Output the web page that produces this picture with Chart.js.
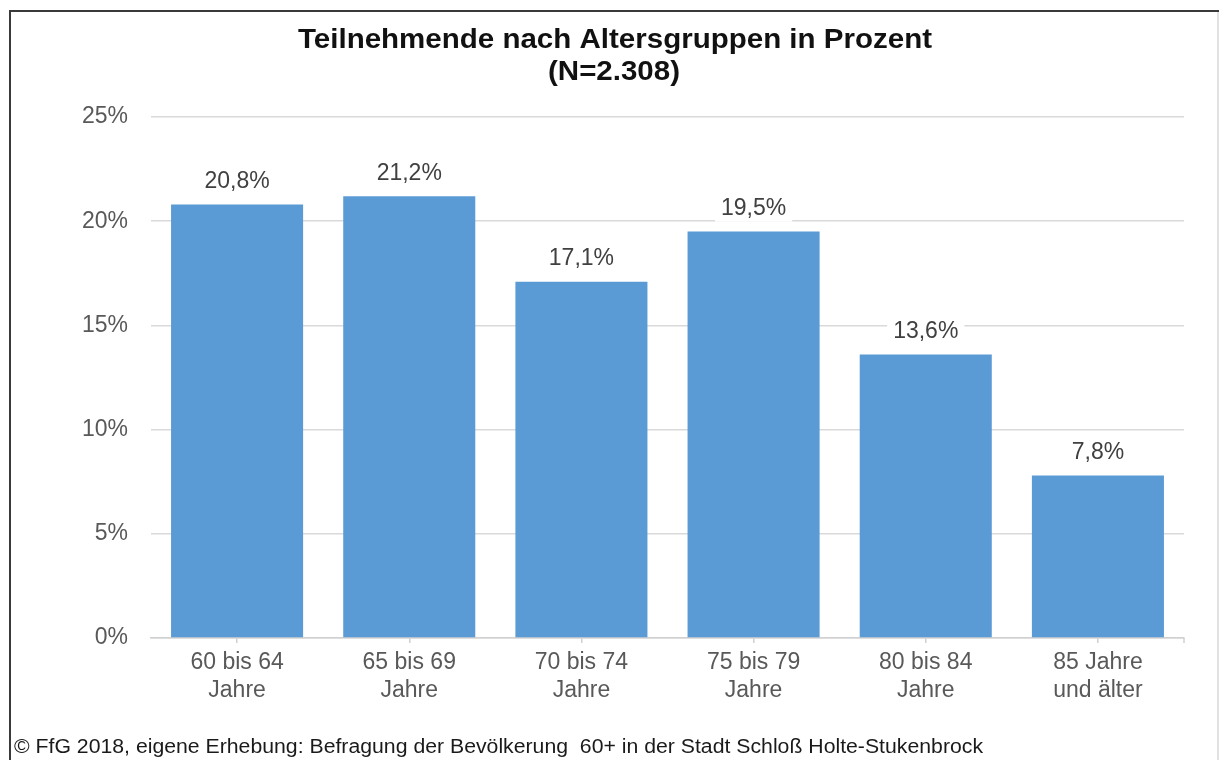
<!DOCTYPE html>
<html>
<head>
<meta charset="utf-8">
<script src="https://cdn.jsdelivr.net/npm/chart.js@4.4.0/dist/chart.umd.min.js"></script>
<style>
  html, body { margin: 0; padding: 0; background: #fff; }
  #wrap { position: absolute; left: 0; top: 0; width: 1219px; height: 760px; }
</style>
</head>
<body>
<div id="wrap"><canvas id="c" width="1219" height="760"></canvas></div>
<script>
const categories = [["60 bis 64", "Jahre"], ["65 bis 69", "Jahre"], ["70 bis 74", "Jahre"], ["75 bis 79", "Jahre"], ["80 bis 84", "Jahre"], ["85 Jahre", "und älter"]];
const values = [20.8, 21.2, 17.1, 19.5, 13.6, 7.8];
const titleLines = ["Teilnehmende nach Altersgruppen in Prozent", "(N=2.308)"];
const footerText = "© FfG 2018, eigene Erhebung: Befragung der Bevölkerung  60+ in der Stadt Schloß Holte-Stukenbrock";

const FONT = "'Liberation Sans', Arial, sans-serif";

function fmt(v) { return v.toFixed(1).replace('.', ',') + '%'; }

function drawFitted(ctx, text, cx, cy, font, color, targetW, align) {
  ctx.save();
  ctx.font = font;
  ctx.fillStyle = color;
  ctx.textBaseline = 'middle';
  const w = ctx.measureText(text).width;
  const s = targetW ? targetW / w : 1;
  ctx.translate(cx, cy);
  ctx.scale(s, 1);
  ctx.textAlign = align || 'center';
  ctx.fillText(text, 0, 0);
  ctx.restore();
}

const decor = {
  id: 'decor',
  beforeDraw(chart) {
    const ctx = chart.ctx;
    ctx.save();
    ctx.fillStyle = '#fff';
    ctx.fillRect(0, 0, chart.width, chart.height);
    ctx.strokeStyle = '#3a3a3a';
    ctx.lineWidth = 2;
    ctx.beginPath();
    ctx.moveTo(10, 770); ctx.lineTo(10, 11); ctx.lineTo(1219, 11);
    ctx.stroke();
    ctx.strokeStyle = '#d8d8d8';
    ctx.lineWidth = 1.5;
    ctx.beginPath();
    ctx.moveTo(1218, 12); ctx.lineTo(1218, 760);
    ctx.stroke();
    ctx.restore();
  },
  afterDraw(chart) {
    const ctx = chart.ctx;
    drawFitted(ctx, titleLines[0], 615, 40, "bold 28px " + FONT, '#111', 634);
    drawFitted(ctx, titleLines[1], 614, 72, "bold 28px " + FONT, '#111', 132);
    drawFitted(ctx, footerText, 14, 747, "20px " + FONT, '#1a1a1a', 969, 'left');
    const area = chart.chartArea;
    ctx.save();
    ctx.strokeStyle = '#d0d0d0';
    ctx.lineWidth = 1.5;
    ctx.beginPath();
    ctx.moveTo(area.right, area.bottom); ctx.lineTo(area.right, area.bottom + 5);
    ctx.stroke();
    const meta = chart.getDatasetMeta(0);
    ctx.font = "23px " + FONT;
    ctx.textAlign = 'center';
    ctx.textBaseline = 'middle';
    meta.data.forEach((bar, i) => {
      const t = fmt(values[i]);
      const w = ctx.measureText(t).width;
      const cy = bar.y - 23;
      ctx.fillStyle = '#fff';
      ctx.fillRect(bar.x - w / 2 - 6, cy - 13, w + 12, 26);
      ctx.fillStyle = '#404040';
      ctx.fillText(t, bar.x, cy);
    });
    ctx.restore();
  }
};

new Chart(document.getElementById('c'), {
  type: 'bar',
  data: {
    labels: categories,
    datasets: [{
      data: values,
      backgroundColor: '#5b9bd5',
      borderWidth: 0,
      barPercentage: 0.767,
      categoryPercentage: 1.0
    }]
  },
  options: {
    responsive: false,
    animation: false,
    devicePixelRatio: 1,
    layout: { padding: { left: 0, right: 35, top: 117, bottom: 0 } },
    plugins: {
      legend: { display: false },
      title: { display: false },
      tooltip: { enabled: false }
    },
    scales: {
      x: {
        grid: { offset: false, drawOnChartArea: false, drawTicks: true, tickLength: 5, color: '#d0d0d0', lineWidth: 1.5 },
        border: { display: true, color: '#d0d0d0', width: 1.5 },
        ticks: { color: '#595959', font: { family: FONT, size: 23 }, padding: 6, maxRotation: 0, autoSkip: false },
        afterFit(scale) { scale.height = 122; }
      },
      y: {
        min: 0, max: 25,
        ticks: { stepSize: 5, color: '#595959', font: { family: FONT, size: 23 }, padding: 23, callback: v => v + '%' },
        grid: { color: '#d9d9d9', lineWidth: 1.5, drawTicks: false },
        border: { display: false },
        afterFit(scale) { scale.width = 151; }
      }
    }
  },
  plugins: [decor]
});
</script>
</body>
</html>
